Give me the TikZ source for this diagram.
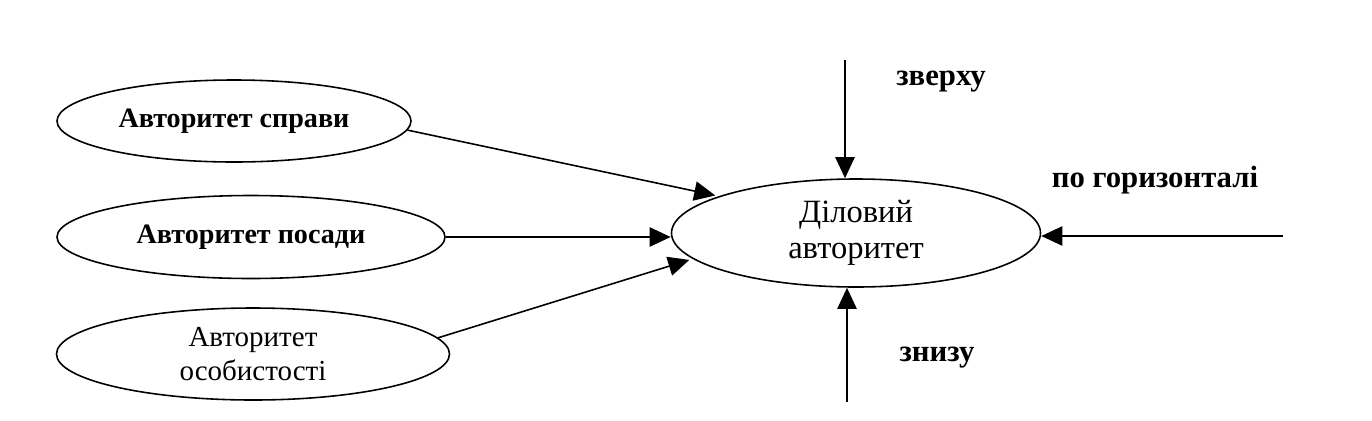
\documentclass[tikz,border=0pt]{standalone}
\usepackage{fontspec}
\setmainfont{Liberation Serif}
\usetikzlibrary{shapes.geometric, arrows.meta, positioning}

\begin{document}
\begin{tikzpicture}[
        x=0.02cm, y=-0.02cm,
        >={Triangle[length=12pt, width=11pt]},
        side/.style={ellipse, draw=black, line width=0.9pt, inner sep=0pt, align=center, font=\fontsize{16.5}{19}\selectfont},
        main/.style={ellipse, draw=black, line width=0.9pt, inner sep=0pt, align=center, font=\fontsize{18.5}{20.5}\selectfont, minimum width=369*0.02cm, minimum height=108*0.02cm},
        lbl/.style={font=\fontsize{17.5}{20}\selectfont\bfseries},
        arrow/.style={->, line width=0.9pt, draw=black}
    ]

    \useasboundingbox (0,0) rectangle (1372,420);

    \node[side, minimum width=354*0.02cm, minimum height=82*0.02cm, font=\fontsize{16}{19}\selectfont\bfseries] (prava) at (234,121) {Авторитет справи};
    \node[side, minimum width=388*0.02cm, minimum height=83*0.02cm, font=\fontsize{16}{19}\selectfont\bfseries] (posada) at (251,237) {Авторитет посади};
    \node[side, minimum width=393*0.02cm, minimum height=92*0.02cm] (osoba) at (253,354) {Авторитет\\особистості};

    \node[main] (dil) at (856,233) {Діловий\\авторитет};

    \coordinate (top) at (845,60);
    \coordinate (bot) at (847,402);
    \coordinate (rgt) at (1283,236);

    \node[lbl] (zverhu) at (941,82) {зверху};
    \node[lbl] (znyzu) at (937,358) {знизу};
    \node[lbl] (horiz) at (1155,180) {по горизонталі};

    \draw[arrow, shorten >=2pt] (prava.-3) -- (dil.165);
    \draw[arrow] (posada.east) -- (posada.east -| dil.west);
    \draw[arrow, shorten >=2pt] (osoba.5) -- (dil.-171);
    \draw[arrow] (top) -- (top |- dil.north);
    \draw[arrow] (bot) -- (bot |- dil.south);
    \draw[arrow] (rgt) -- (rgt -| dil.east);

    \end{tikzpicture}
\end{document}
